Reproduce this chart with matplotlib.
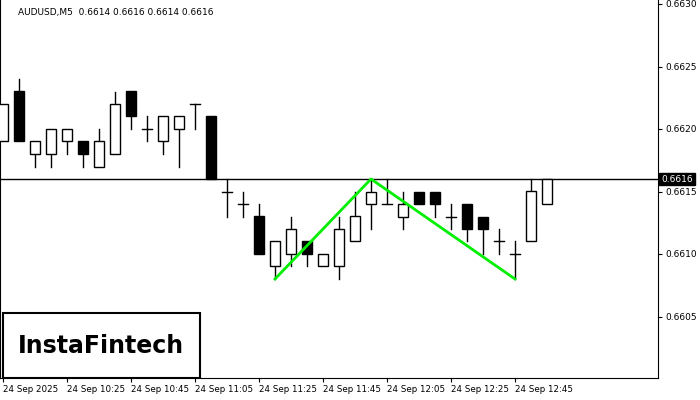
import matplotlib
matplotlib.use("Agg")
import matplotlib.pyplot as plt
from matplotlib.patches import Rectangle

opens  = [0.6619,0.6623,0.6618,0.6618,0.6619,0.6619,0.6617,0.6618,0.6623,0.6620,0.6619,0.6620,0.6622,0.6621,
          0.6615,0.6614,0.6613,0.6609,0.6610,0.6611,0.6609,0.6609,0.6611,0.6614,0.6614,0.6613,0.6615,
          0.6615,0.6613,0.6614,0.6613,0.6611,0.6610,0.6611,0.6614]
closes = [0.6622,0.6619,0.6619,0.6620,0.6620,0.6618,0.6619,0.6622,0.6621,0.6620,0.6621,0.6621,0.6622,0.6616,
          0.6615,0.6614,0.6610,0.6611,0.6612,0.6610,0.6610,0.6612,0.6613,0.6615,0.6614,0.6614,0.6614,
          0.6614,0.6613,0.6612,0.6612,0.6611,0.6610,0.6615,0.6616]
highs  = [0.6622,0.6624,0.6619,0.6620,0.6620,0.6619,0.6620,0.6623,0.6623,0.6621,0.6621,0.6621,0.6622,0.6621,
          0.6616,0.6615,0.6614,0.6611,0.6613,0.6611,0.6610,0.6613,0.6615,0.6616,0.6616,0.6615,0.6615,
          0.6615,0.6614,0.6614,0.6613,0.6612,0.6611,0.6616,0.6616]
lows   = [0.6619,0.6619,0.6617,0.6617,0.6618,0.6617,0.6617,0.6618,0.6620,0.6619,0.6618,0.6617,0.6620,0.6616,
          0.6613,0.6613,0.6610,0.6608,0.6609,0.6609,0.6609,0.6608,0.6611,0.6612,0.6614,0.6612,0.6614,
          0.6613,0.6612,0.6611,0.6610,0.6610,0.6608,0.6611,0.6614]
pattern_x = [17, 23, 32]
pattern_y = [0.6608, 0.6616, 0.6608]
current_price = 0.6616
time_pos = [0, 4, 8, 12, 16, 20, 24, 28, 32]
time_labels = ["24 Sep 2025","24 Sep 10:25","24 Sep 10:45","24 Sep 11:05","24 Sep 11:25",
               "24 Sep 11:45","24 Sep 12:05","24 Sep 12:25","24 Sep 12:45"]
price_ticks = [0.6605, 0.6610, 0.6615, 0.6620, 0.6625, 0.6630]

fig = plt.figure(figsize=(7, 4), dpi=100)
ax = fig.add_axes([0, 22/400, 658/700, 378/400])
x0 = -3/16
ax.set_xlim(x0, x0 + 658/16)
ax.set_ylim(0.6616 - 199/125000, 0.6616 + 179/125000)

w = 0.6
for i, (o, c, h, l) in enumerate(zip(opens, closes, highs, lows)):
    top, bot = max(o, c), min(o, c)
    ax.plot([i, i], [top, h], color="black", lw=1, zorder=2)
    ax.plot([i, i], [l, bot], color="black", lw=1, zorder=2)
    if top == bot:
        ax.plot([i - w/2, i + w/2], [o, o], color="black", lw=1, zorder=2)
    else:
        ax.add_patch(Rectangle((i - w/2, bot), w, top - bot,
                               facecolor="white" if c > o else "black",
                               edgecolor="black", lw=1, zorder=3))

ax.axhline(current_price, color="black", lw=1, zorder=1)
ax.plot(pattern_x, pattern_y, color="#00ee00", lw=2, zorder=4)

ax.yaxis.tick_right()
ax.set_yticks(price_ticks)
ax.set_yticklabels([f"{p:.4f}" for p in price_ticks], fontsize=6.5)
ax.text(1.005, current_price, f"{current_price:.4f}", transform=ax.get_yaxis_transform(),
        fontsize=6.5, color="white", va="center", ha="left",
        bbox=dict(boxstyle="square,pad=0.2", fc="black", ec="black"))
ax.set_xticks(time_pos)
ax.set_xticklabels(time_labels, fontsize=6.3, ha="left")
ax.tick_params(axis="x", length=3, pad=2)
ax.tick_params(axis="y", length=3, pad=2)
ax.spines["top"].set_visible(False)

ax.text(18/658, 1 - 12/378, "AUDUSD,M5  0.6614 0.6616 0.6614 0.6616",
        transform=ax.transAxes, fontsize=6.5, va="center", ha="left")

ax.add_patch(Rectangle((3/658, 0), 197/658, 65/378, transform=ax.transAxes,
                       facecolor="white", edgecolor="black", lw=1.5, zorder=5))
ax.text(101/658, 32/378, "InstaFintech", transform=ax.transAxes, fontsize=17,
        ha="center", va="center", zorder=6, family="DejaVu Sans", weight="bold")

fig.savefig("out.png", dpi=100)
